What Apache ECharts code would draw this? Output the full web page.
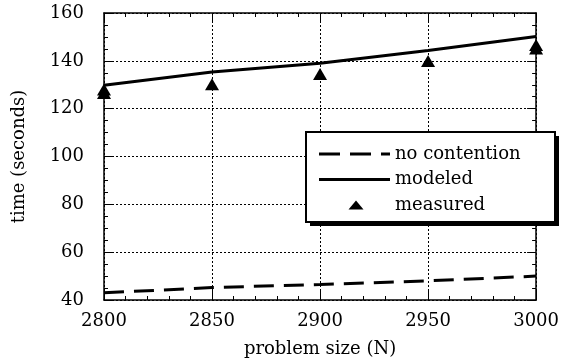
<!DOCTYPE html>
<html>
<head>
<meta charset="utf-8">
<script src="https://cdn.jsdelivr.net/npm/echarts@6/dist/echarts.min.js"></script>
<style>
  html, body { margin: 0; padding: 0; background: #fff; }
  #chart { width: 562px; height: 364px; }
</style>
</head>
<body>
<div id="chart"></div>
<script>
// problem sizes (N)
const sizes = [2800, 2850, 2900, 2950, 3000];
// time in seconds
const noContention = [43, 45.2, 46.5, 48, 50];
const modeled = [129.8, 135.3, 139, 144.3, 150.2];
const measuredN = [2800, 2800, 2850, 2900, 2950, 3000, 3000];
const measuredT = [128, 126.5, 130.2, 134.5, 139.9, 146.6, 145.2];

const FONT = 'DejaVu Serif';
const fontSize = 18;

function pairs(xs, ys) {
    return xs.map(function (x, i) { return [x, ys[i]]; });
}

// legend glyphs, drawn in a 71x14 box (the leading moves fix the box)
const BOX = 'path://M0,0M71,14';
const dashIcon = BOX + 'M0,5.5L21,5.5L21,8.5L0,8.5Z' +
    'M31,5.5L52,5.5L52,8.5L31,8.5Z' +
    'M62,5.5L71,5.5L71,8.5L62,8.5Z';
const solidIcon = BOX + 'M0,5.5L71,5.5L71,8.5L0,8.5Z';
const triIcon = BOX + 'M37,2.5L44.5,11.5L29.5,11.5Z';

const chart = echarts.init(document.getElementById('chart'));

// shared look for the four frame axes (ticks point inward)
function frameAxis(extra) {
    return Object.assign({
        type: 'value',
        axisLine: { show: true, onZero: false, lineStyle: { color: '#000', width: 1.5 } },
        axisTick: { show: true, inside: true, length: 9, lineStyle: { color: '#000', width: 1 } },
        minorTick: { show: true, length: 4, lineStyle: { color: '#000', width: 1 } },
        splitLine: { show: false },
        axisLabel: { show: false }
    }, extra);
}

const legendItem = function (name, icon) {
    return { name: name, icon: icon, itemStyle: { color: '#000', borderWidth: 0 } };
};

const option = {
    animation: false,
    backgroundColor: '#fff',
    textStyle: { fontFamily: FONT, color: '#000' },
    grid: { left: 104, top: 13, right: 23, bottom: 64 },
    // solid drop shadow behind the legend box
    graphic: [{
        type: 'rect', left: 310, top: 136, z: 3,
        shape: { width: 249, height: 90 },
        style: { fill: '#000' }
    }],
    xAxis: [
        frameAxis({
            position: 'bottom', min: 2800, max: 3000, interval: 50,
            minorTick: { show: true, splitNumber: 5, length: 4, lineStyle: { color: '#000' } },
            splitLine: { show: true, lineStyle: { color: '#000', width: 1, type: [2, 2] } },
            axisLabel: {
                show: true, margin: 12, fontFamily: FONT, fontSize: fontSize, color: '#000',
                formatter: function (v) { return String(v); }
            },
            name: 'problem size (N)', nameLocation: 'middle', nameGap: 40,
            nameTextStyle: { fontFamily: FONT, fontSize: fontSize, color: '#000' }
        }),
        frameAxis({
            position: 'top', min: 2800, max: 3000, interval: 50,
            minorTick: { show: true, splitNumber: 5, length: 4, lineStyle: { color: '#000' } }
        })
    ],
    yAxis: [
        frameAxis({
            position: 'left', min: 40, max: 160, interval: 20,
            minorTick: { show: true, splitNumber: 4, length: 4, lineStyle: { color: '#000' } },
            splitLine: { show: true, lineStyle: { color: '#000', width: 1, type: [2, 2] } },
            axisLabel: { show: true, margin: 20, fontFamily: FONT, fontSize: fontSize, color: '#000' },
            name: 'time (seconds)', nameLocation: 'middle', nameGap: 76,
            nameTextStyle: { fontFamily: FONT, fontSize: fontSize, color: '#000' }
        }),
        frameAxis({
            position: 'right', min: 40, max: 160, interval: 20,
            minorTick: { show: true, splitNumber: 4, length: 4, lineStyle: { color: '#000' } }
        })
    ],
    legend: {
        orient: 'vertical',
        left: 306, top: 132, z: 4,
        padding: [13, 10, 8, 13],
        itemWidth: 71, itemHeight: 14,
        itemGap: 7.5,
        backgroundColor: '#fff',
        borderColor: '#000', borderWidth: 2,
        textStyle: { fontFamily: FONT, fontSize: fontSize, lineHeight: 18, color: '#000', width: 150 },
        data: [
            legendItem('no contention', dashIcon),
            legendItem('modeled', solidIcon),
            legendItem('measured', triIcon)
        ]
    },
    series: [
        {
            name: 'no contention', type: 'line',
            data: pairs(sizes, noContention),
            symbol: 'none',
            lineStyle: { color: '#000', width: 3, type: [20, 10] },
            itemStyle: { color: '#000' }
        },
        {
            name: 'modeled', type: 'line',
            data: pairs(sizes, modeled),
            symbol: 'none',
            lineStyle: { color: '#000', width: 3 },
            itemStyle: { color: '#000' }
        },
        {
            name: 'measured', type: 'scatter',
            data: pairs(measuredN, measuredT),
            symbol: 'triangle', symbolSize: [14, 12],
            itemStyle: { color: '#000', opacity: 1 }
        }
    ]
};

chart.setOption(option);
</script>
</body>
</html>
